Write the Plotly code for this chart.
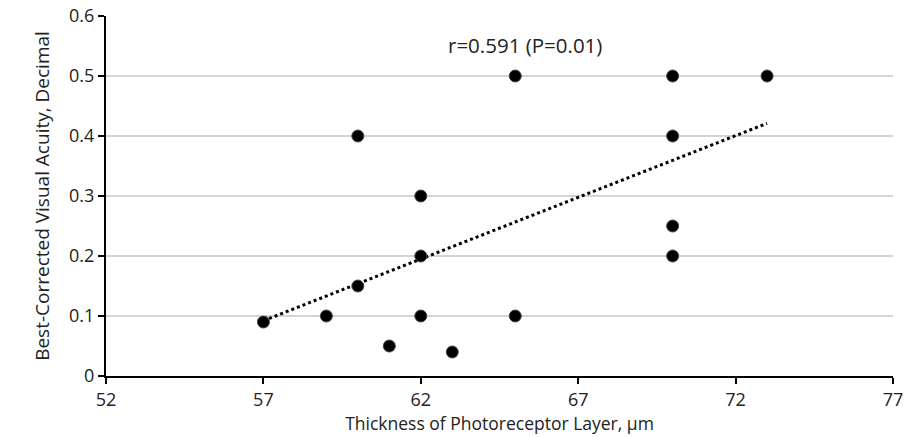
import numpy as np
import plotly.graph_objects as go

thickness = [57, 59, 60, 60, 61, 62, 62, 62, 63, 65, 65, 70, 70, 70, 70, 73]
bcva = [0.09, 0.10, 0.40, 0.15, 0.05, 0.30, 0.20, 0.10, 0.04, 0.50, 0.10, 0.50, 0.40, 0.25, 0.20, 0.50]
x_ticks = [52, 57, 62, 67, 72, 77]
y_ticks = [0, 0.1, 0.2, 0.3, 0.4, 0.5, 0.6]
y_tick_labels = ["0", "0.1", "0.2", "0.3", "0.4", "0.5", "0.6"]
annotation_text = "r=0.591 (P=0.01)"

slope, intercept = np.polyfit(thickness, bcva, 1)
trend_x = [min(thickness), max(thickness)]
trend_y = [slope * v + intercept for v in trend_x]

font_family = "Open Sans, Liberation Sans, sans-serif"

fig = go.Figure()
fig.add_trace(go.Scatter(
    x=trend_x, y=trend_y, mode="lines",
    line=dict(color="black", width=3, dash="dot"),
    hoverinfo="skip", showlegend=False,
))
fig.add_trace(go.Scatter(
    x=thickness, y=bcva, mode="markers",
    marker=dict(color="black", size=12, line=dict(color="#444", width=1)),
    showlegend=False,
))

fig.add_annotation(
    x=65.3, y=0.552, text=annotation_text, showarrow=False,
    font=dict(size=20.5, color="#222", family=font_family),
)

fig.update_layout(
    width=904, height=437,
    margin=dict(l=106, r=11, t=16, b=61),
    paper_bgcolor="white", plot_bgcolor="white",
    font=dict(family=font_family, color="#222"),
    xaxis=dict(
        range=[52, 77], tickvals=x_ticks, ticktext=[str(t) for t in x_ticks],
        showgrid=False, zeroline=False, automargin=False,
        showline=True, linecolor="black", linewidth=2,
        ticks="outside", ticklen=6, tickwidth=2, tickcolor="black",
        tickfont=dict(size=18, color="#222"),
        title=dict(text="Thickness of Photoreceptor Layer, µm", font=dict(size=17.5, color="#222"), standoff=4),
    ),
    yaxis=dict(
        range=[0, 0.6], tickvals=y_ticks, ticktext=y_tick_labels,
        showgrid=True, gridcolor="#d4d4d4", gridwidth=1.5, zeroline=False, automargin=False,
        showline=True, linecolor="black", linewidth=2,
        ticks="outside", ticklen=6, tickwidth=2, tickcolor="black",
        tickfont=dict(size=18, color="#222"),
        title=dict(text="Best-Corrected Visual Acuity, Decimal", font=dict(size=19, color="#222"), standoff=14),
    ),
)

fig.write_html("out.html", config={"displayModeBar": False},
               post_script="document.body.style.margin='0';")
